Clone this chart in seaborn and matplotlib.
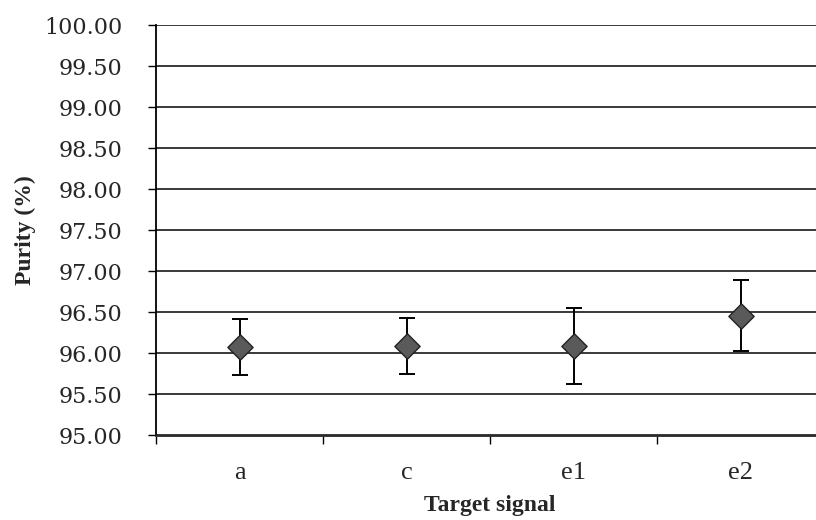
import matplotlib
matplotlib.use("Agg")
import matplotlib.pyplot as plt
import seaborn as sns
import numpy as np
import pandas as pd
from matplotlib.ticker import FixedLocator

categories = ["a", "c", "e1", "e2"]
purity = [96.08, 96.09, 96.09, 96.46]
errors = [0.345, 0.34, 0.46, 0.43]
y_ticks = [95.0, 95.5, 96.0, 96.5, 97.0, 97.5, 98.0, 98.5, 99.0, 99.5, 100.0]

df = pd.DataFrame({"Target signal": categories, "Purity": purity, "err": errors})

sns.set_theme(style="white")
plt.rcParams["font.family"] = ["Liberation Serif", "DejaVu Serif"]

W, H = 816, 520
fig = plt.figure(figsize=(W / 100, H / 100), dpi=100)
left, right, top, bottom = 156, 824, 25, 435.5
ax = fig.add_axes([left / W, (H - bottom) / H, (right - left) / W, (bottom - top) / H])

ax.errorbar(df["Target signal"], df["Purity"], yerr=df["err"], fmt="none",
            ecolor="black", elinewidth=1.4, capsize=6, capthick=1.4, zorder=3)
sns.scatterplot(data=df, x="Target signal", y="Purity", marker="D", s=165,
                color="#5a5a5a", edgecolor="#222222", linewidth=1.0, zorder=4, ax=ax)

ax.set_xlim(-0.5, 3.5)
ax.set_ylim(95, 100)
ax.set_yticks(y_ticks)
ax.set_yticklabels([f"{v:.2f}" for v in y_ticks], family="DejaVu Serif", fontsize=16)
ax.yaxis.grid(True, color="#2a2a2a", linewidth=1.3)
ax.xaxis.grid(False)
ax.set_axisbelow(True)

ax.xaxis.set_minor_locator(FixedLocator([-0.5, 0.5, 1.5, 2.5]))
ax.tick_params(axis="x", which="major", length=0, pad=19, labelsize=19)
ax.tick_params(axis="x", which="minor", length=6, width=1.0, direction="out", color="black", bottom=True)
ax.tick_params(axis="y", which="major", length=6, width=1.0, direction="out", color="black", left=True, pad=18)

for s in ["top", "right"]:
    ax.spines[s].set_visible(False)
ax.spines["left"].set_color("black")
ax.spines["left"].set_linewidth(1.3)
ax.spines["bottom"].set_color("#2a2a2a")
ax.spines["bottom"].set_linewidth(1.3)

ax.set_xlabel("Target signal", fontsize=17, fontweight="bold", labelpad=8)
ax.set_ylabel("Purity (%)", fontsize=17, fontweight="bold", labelpad=6)

fig.savefig("out.png", dpi=100)
